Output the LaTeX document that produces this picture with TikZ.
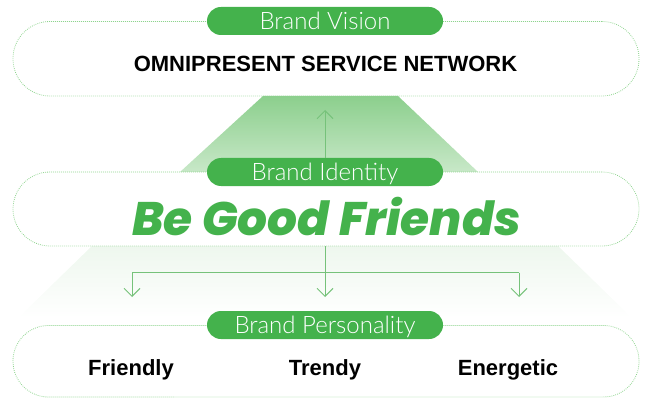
\documentclass[tikz,border=0pt]{standalone}
\usepackage{fontspec}
\setmainfont{Liberation Sans}
\newfontfamily\lightf{Lato Light}
\newfontfamily\heavyf{Poppins ExtraBold Italic}
\usetikzlibrary{arrows.meta}
\definecolor{brand}{HTML}{44B24C}
\definecolor{dotg}{HTML}{8FD48F}
\definecolor{lineg}{HTML}{76C27A}
\definecolor{shadetop}{HTML}{8CCF8D}
\definecolor{shadebot}{HTML}{C8E8C8}
\definecolor{shadetwo}{HTML}{EEF7EE}
\definecolor{shademid}{HTML}{F8FCF8}
\begin{document}
\begin{tikzpicture}[x=1pt,y=-1pt,
 frame/.style={draw=dotg, line width=0.8pt, dash pattern=on 0.8pt off 1.2pt,
   minimum width=626pt, inner sep=0pt},
 pill/.style={fill=brand, text=white, rounded corners=14pt, minimum width=236pt,
   minimum height=28pt, inner sep=0pt, text height=16.5pt, text depth=0pt,
   font=\lightf\fontsize{24}{24}\selectfont},
 conn/.style={draw=lineg, line width=1pt},
 tipv/.style={-{Straight Barb[length=8pt,width=16pt]}},
 boldtxt/.style={anchor=base, inner sep=0pt, font=\bfseries\fontsize{22}{22}\selectfont},
]
\useasboundingbox (0,0) rectangle (647,398);
% shadings
\shade[top color=shadetop, bottom color=shadebot] (263,96) -- (398,96) -- (478,172) -- (180,172) -- cycle;
\shade[top color=shadetwo, middle color=shademid, bottom color=white] (92,246) -- (558,246) -- (632,318) -- (18,318) -- cycle;
% frames
\node[frame, minimum height=74.5pt, rounded corners=37pt] (box1) at (326,58.75) {};
\node[frame, minimum height=74pt, rounded corners=37pt] (box2) at (326,209) {};
\node[frame, minimum height=71.5pt, rounded corners=35.5pt] (box3) at (326,361.25) {};
% connectors
\coordinate (upend) at (325,110);
\coordinate (split) at (325,272.7);
\coordinate (lt) at (132,272.7);
\coordinate (rt) at (519,272.7);
\coordinate (ld) at (132,297);
\coordinate (md) at (325,297);
\coordinate (rd) at (519,297);
\coordinate (b2s) at (325,246);
% pills
\node[pill] (pv) at (325,21) {Brand Vision};
\node[pill] (pi) at (325,172) {Brand Identity};
\node[pill] (pp) at (325,325) {Brand Personality};
\draw[conn,tipv] (pi.north) -- (upend);
\draw[conn,tipv] (b2s) -- (md);
\draw[conn] (lt) -- (rt);
\draw[conn,tipv] (lt) -- (ld);
\draw[conn,tipv] (rt) -- (rd);
% texts
\node[boldtxt] (vision) at (325.5,71.5) {OMNIPRESENT SERVICE NETWORK};
\node[anchor=base, inner sep=0pt, text=brand, font=\heavyf\fontsize{47}{47}\selectfont] (ident) at (326.5,235) {Be Good Friends};
\node[boldtxt] (p1) at (131,375) {Friendly};
\node[boldtxt] (p2) at (325,375) {Trendy};
\node[boldtxt] (p3) at (508,375) {Energetic};
\end{tikzpicture}
\end{document}
